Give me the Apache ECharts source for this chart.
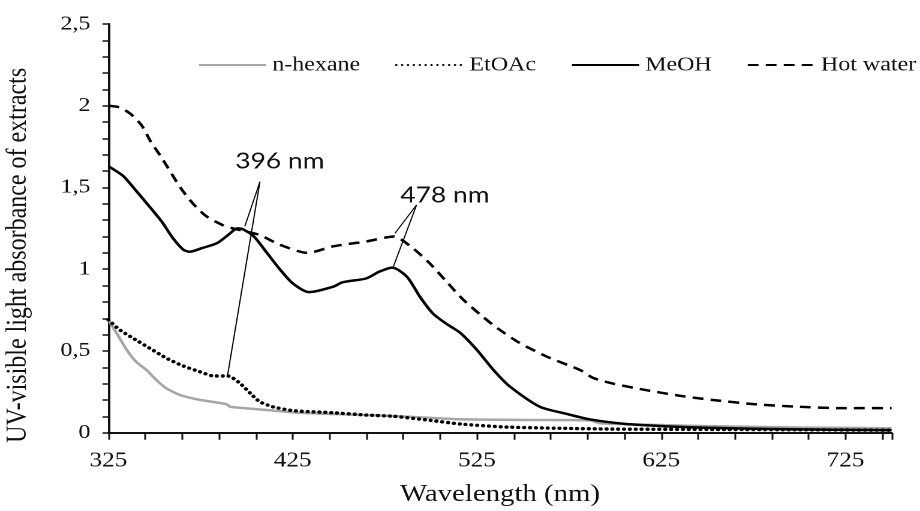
<!DOCTYPE html>
<html>
<head>
<meta charset="UTF-8">
<title>UV-visible spectra of extracts</title>
<script src="https://cdn.jsdelivr.net/npm/echarts@6/dist/echarts.min.js"></script>
<style>
  html, body { margin: 0; padding: 0; overflow: hidden; background: #fff; }
  /* the original figure is stretched sideways by about 1.2, so draw narrow and widen it */
  #main { width: 767px; height: 511px; transform: scaleX(1.1995); transform-origin: 0 0; }
</style>
</head>
<body>
<div id="main"></div>
<script type="text/javascript">
  // wavelength (nm) / absorbance
  var hexaneNm  = [325, 329.5, 335, 340, 345.7, 351, 356.6, 364, 375, 389, 391, 411, 429, 447, 480, 516, 550, 586, 592, 624, 650, 700, 750];
  var hexaneAbs = [0.69, 0.608, 0.506, 0.434, 0.383, 0.322, 0.27, 0.23, 0.20, 0.175, 0.159, 0.139, 0.122, 0.114, 0.102, 0.082, 0.078, 0.076, 0.057, 0.047, 0.04, 0.032, 0.027];

  var etoacNm  = [325, 331, 338.5, 347.5, 356.6, 365.6, 374.6, 382, 390, 396.4, 402, 407, 414, 425, 447, 465, 480, 500, 516, 540, 570, 600, 650, 700, 750];
  var etoacAbs = [0.69, 0.63, 0.577, 0.516, 0.455, 0.408, 0.373, 0.347, 0.347, 0.302, 0.241, 0.19, 0.159, 0.135, 0.122, 0.108, 0.10, 0.075, 0.053, 0.035, 0.027, 0.022, 0.02, 0.018, 0.015];

  var meohNm  = [325, 333, 340, 347.5, 354, 360, 365.6, 369, 376, 384, 390, 395, 398, 404, 411, 418, 425, 434, 447, 452, 465, 472, 479, 487, 494, 501, 508, 516, 525, 534, 543, 559, 574, 586, 606, 624, 650, 700, 750];
  var meohAbs = [1.63, 1.57, 1.48, 1.38, 1.29, 1.19, 1.12, 1.107, 1.13, 1.16, 1.21, 1.25, 1.244, 1.20, 1.10, 1.00, 0.914, 0.86, 0.893, 0.92, 0.944, 0.985, 1.01, 0.954, 0.832, 0.73, 0.669, 0.61, 0.506, 0.383, 0.281, 0.159, 0.114, 0.082, 0.053, 0.041, 0.03, 0.02, 0.015];

  var waterNm  = [325, 331, 337, 343, 348, 354, 364, 371, 378, 387, 396, 407, 418, 433, 447, 465, 480, 490, 499, 508, 517, 527, 536, 548, 563, 581, 588, 599, 617, 635, 653, 675, 697, 724, 750];
  var waterAbs = [2.00, 1.99, 1.95, 1.88, 1.78, 1.68, 1.50, 1.40, 1.325, 1.27, 1.24, 1.21, 1.15, 1.10, 1.14, 1.17, 1.20, 1.13, 1.04, 0.93, 0.82, 0.72, 0.64, 0.55, 0.465, 0.383, 0.335, 0.30, 0.26, 0.226, 0.20, 0.175, 0.16, 0.15, 0.15];

  var seriesNames = ['n-hexane', 'EtOAc', 'MeOH', 'Hot water'];

  // peak call-outs: label position and the leader lines (from, to)
  var peakLabels  = ['396 nm', '478 nm'];
  var peakLabelAt = [[418, 1.66], [507.6, 1.45]];
  var peakLeaders = [
    [[407.2, 1.535], [399, 1.262]],
    [[407.2, 1.535], [389.7, 0.355]],
    [[492.2, 1.393], [480.5, 1.22]],
    [[492.2, 1.393], [479.5, 1.012]]
  ];

  function pairs(xs, ys) {
    return xs.map(function (x, i) { return [x, ys[i]]; });
  }

  var serif = 'Liberation Serif';
  var ink = '#111';

  var myChart = echarts.init(document.getElementById('main'), null, { renderer: 'canvas', devicePixelRatio: 2 });

  var option = {
    animation: false,
    textStyle: { fontFamily: serif, color: ink },
    grid: { left: 90.4, right: 23.7, top: 24, bottom: 78.3, containLabel: false, outerBoundsMode: 'none' },
    legend: {
      data: seriesNames,
      left: 165,
      top: 55,
      padding: 0,
      itemWidth: 56,
      itemHeight: 2,
      itemGap: 29,
      itemStyle: { opacity: 0 },
      textStyle: { fontFamily: serif, fontSize: 20, color: ink }
    },
    xAxis: {
      type: 'value',
      min: 325,
      max: 750,
      interval: 100,
      name: 'Wavelength (nm)',
      nameLocation: 'middle',
      nameGap: 50,
      nameTextStyle: { fontFamily: serif, fontSize: 24, color: ink },
      axisLine: { lineStyle: { color: ink, width: 2 } },
      axisTick: { show: true, inside: false, length: 7, lineStyle: { color: ink, width: 1.5 } },
      minorTick: { show: true, splitNumber: 5, length: 7, lineStyle: { color: ink, width: 1.5 } },
      splitLine: { show: false },
      axisLabel: { fontFamily: serif, fontSize: 21, color: ink, margin: 18, showMaxLabel: false }
    },
    yAxis: {
      type: 'value',
      min: 0,
      max: 2.5,
      interval: 0.5,
      name: 'UV-visible light absorbance of extracts',
      nameLocation: 'middle',
      nameGap: 63,
      nameTextStyle: { fontFamily: serif, fontSize: 24, color: ink, padding: [0, 54, 0, 0] },
      axisLine: { show: true, lineStyle: { color: ink, width: 2 } },
      axisTick: { show: true, inside: false, length: 5, lineStyle: { color: ink, width: 1.5 } },
      minorTick: { show: true, splitNumber: 5, length: 5, lineStyle: { color: ink, width: 1.5 } },
      splitLine: { show: false },
      axisLabel: {
        fontFamily: serif, fontSize: 20, color: ink, margin: 15,
        formatter: function (v) { return String(v).replace('.', ','); }
      }
    },
    series: [
      {
        name: 'n-hexane',
        type: 'line',
        symbol: 'none',
        smooth: 0.2,
        data: pairs(hexaneNm, hexaneAbs),
        lineStyle: { color: '#a6a6a6', width: 2.5 },
        itemStyle: { color: '#a6a6a6' },
        z: 2
      },
      {
        name: 'EtOAc',
        type: 'line',
        symbol: 'none',
        smooth: 0.2,
        data: pairs(etoacNm, etoacAbs),
        lineStyle: { color: '#000', width: 3.4, type: [0.1, 4.8], cap: 'round' },
        itemStyle: { color: '#000' },
        z: 3
      },
      {
        name: 'MeOH',
        type: 'line',
        symbol: 'none',
        smooth: 0.25,
        data: pairs(meohNm, meohAbs),
        lineStyle: { color: '#000', width: 2.5 },
        itemStyle: { color: '#000' },
        z: 4,
        markLine: {
          silent: true,
          symbol: 'none',
          label: { show: false },
          lineStyle: { color: '#000', width: 1, type: 'solid' },
          data: peakLeaders.map(function (seg) {
            return [{ coord: seg[0] }, { coord: seg[1] }];
          })
        },
        markPoint: {
          silent: true,
          symbol: 'circle',
          symbolSize: 0,
          label: {
            show: true,
            position: 'inside',
            fontFamily: 'Lato',
            fontSize: 22,
            color: ink,
            formatter: function (p) { return p.name; }
          },
          data: peakLabels.map(function (t, i) {
            return { name: t, coord: peakLabelAt[i] };
          })
        }
      },
      {
        name: 'Hot water',
        type: 'line',
        symbol: 'none',
        smooth: 0.25,
        data: pairs(waterNm, waterAbs),
        lineStyle: { color: '#000', width: 2.5, type: [9, 6] },
        itemStyle: { color: '#000' },
        z: 5
      }
    ]
  };

  myChart.setOption(option);
</script>
</body>
</html>
